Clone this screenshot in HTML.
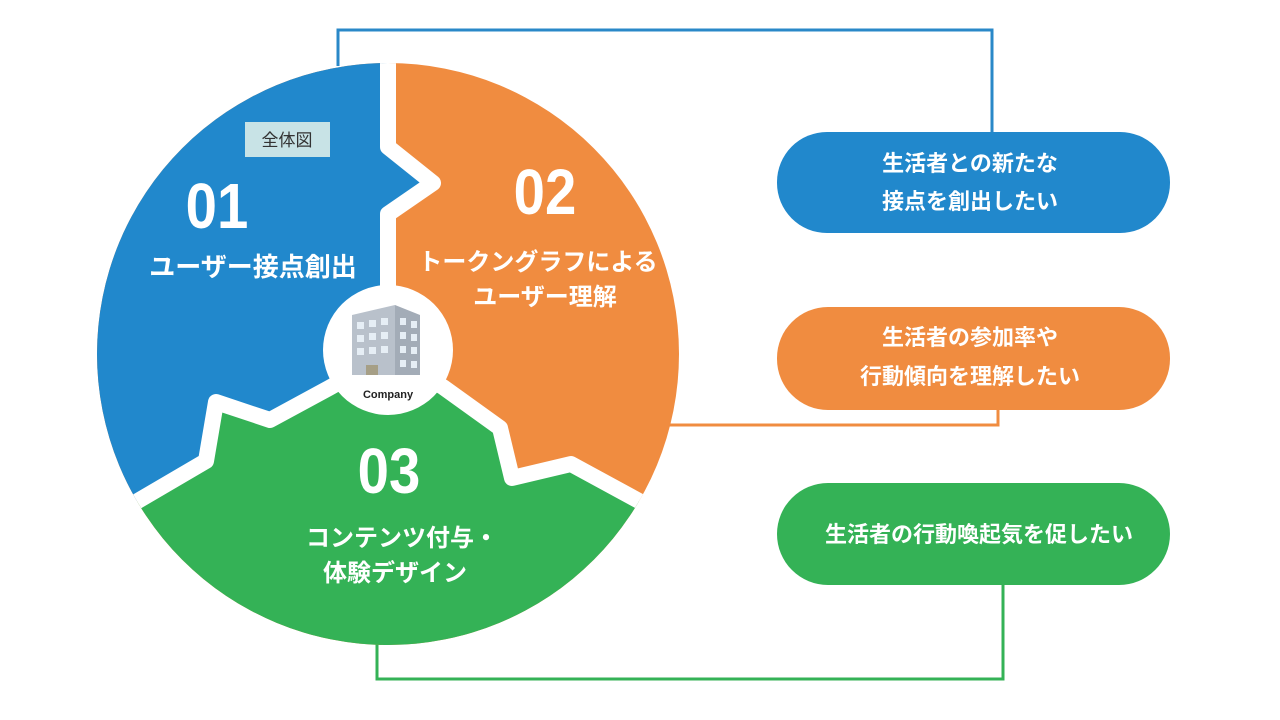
<!DOCTYPE html>
<html><head><meta charset="utf-8"><style>
html,body{margin:0;padding:0;background:#fff;}
body{width:1280px;height:720px;overflow:hidden;position:relative;font-family:"Liberation Sans","Noto Sans CJK JP",sans-serif;}
svg{position:absolute;left:0;top:0;}
</style></head><body>
<svg width="1280" height="720" viewBox="0 0 1280 720" xmlns="http://www.w3.org/2000/svg">
<defs><clipPath id="c"><circle cx="388" cy="354" r="291"/></clipPath></defs>
<polyline points="338,66 338,30 992,30 992,134" fill="none" stroke="#2a88c8" stroke-width="3"/>
<polyline points="660,425 998,425 998,408" fill="none" stroke="#f08c40" stroke-width="3"/>
<polyline points="377,640 377,679 1003,679 1003,583" fill="none" stroke="#34b256" stroke-width="3"/>
<g clip-path="url(#c)">
<rect x="0" y="0" width="1280" height="720" fill="#f08c40"/>
<polygon points="388,0 388,147 433,183 388,214 388,355 329,388 270,420 216,402 206,461 136,502 0,582 0,0" fill="#2188cc"/>
<polygon points="388,355 329,388 270,420 216,402 206,461 136,502 0,582 0,720 800,720 730,550 639,501 571,464 512,478 500,428 443,387" fill="#34b256"/>
<g fill="none" stroke="#fff" stroke-width="16" stroke-linejoin="round">
<polyline points="388,-10 388,147 433,183 388,214 388,355"/>
<polyline points="388,355 329,388 270,420 216,402 206,461 136,502 30,564"/>
<polyline points="388,355 443,387 500,428 512,478 571,464 639,501 740,556"/>
</g>
</g>
<circle cx="388" cy="350" r="65" fill="#fff"/>
<polygon points="352,315 395,305 395,375 352,375" fill="#b9c1cb"/>
<polygon points="395,305 420,315 420,375 395,375" fill="#a3acb7"/>
<g fill="#e6eef5">
<rect x="357" y="322" width="7" height="7"/><rect x="369" y="320" width="7" height="7"/><rect x="381" y="318" width="7" height="7"/>
<rect x="357" y="335" width="7" height="7"/><rect x="369" y="333" width="7" height="7"/><rect x="381" y="332" width="7" height="7"/>
<rect x="357" y="348" width="7" height="7"/><rect x="369" y="347" width="7" height="7"/><rect x="381" y="346" width="7" height="7"/>
<rect x="400" y="318" width="6" height="7"/><rect x="411" y="321" width="6" height="7"/>
<rect x="400" y="332" width="6" height="7"/><rect x="411" y="334" width="6" height="7"/>
<rect x="400" y="346" width="6" height="7"/><rect x="411" y="347" width="6" height="7"/>
<rect x="400" y="360" width="6" height="7"/><rect x="411" y="361" width="6" height="7"/>
</g>
<rect x="366" y="365" width="12" height="10" fill="#a69f86"/>
<text x="388" y="398" text-anchor="middle" font-size="11" font-weight="bold" fill="#222">Company</text>
<rect x="245" y="122" width="85" height="35" fill="#c8e3e6"/>
<text x="287" y="146" text-anchor="middle" font-size="17" fill="#333">全体図</text>
<g fill="#fff" font-weight="bold" text-anchor="middle">
<text x="0" y="0" font-size="64" transform="translate(217,228) scale(0.88,1)">01</text>
<text x="253" y="276" font-size="26">ユーザー接点創出</text>
<text x="0" y="0" font-size="64" transform="translate(545,214) scale(0.88,1)">02</text>
<text x="538" y="270" font-size="24">トークングラフによる</text>
<text x="545" y="305" font-size="24">ユーザー理解</text>
<text x="0" y="0" font-size="64" transform="translate(389,493) scale(0.88,1)">03</text>
<text x="402" y="546" font-size="24">コンテンツ付与・</text>
<text x="395" y="581" font-size="24">体験デザイン</text>
</g>
<rect x="777" y="132" width="393" height="101" rx="50" fill="#2188cc"/>
<rect x="777" y="307" width="393" height="103" rx="51" fill="#f08c40"/>
<rect x="777" y="483" width="393" height="102" rx="51" fill="#34b256"/>
<g fill="#fff" font-weight="bold" text-anchor="middle" font-size="22">
<text x="970" y="171">生活者との新たな</text>
<text x="970" y="209">接点を創出したい</text>
<text x="970" y="345">生活者の参加率や</text>
<text x="970" y="384">行動傾向を理解したい</text>
<text x="979" y="542">生活者の行動喚起気を促したい</text>
</g>
</svg>
</body></html>
